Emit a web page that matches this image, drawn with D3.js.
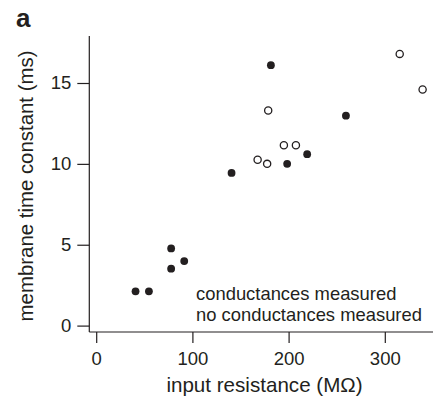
<!DOCTYPE html>
<html>
<head>
<meta charset="utf-8">
<script src="https://cdn.jsdelivr.net/npm/d3@7"></script>
<style>
  html, body { margin: 0; padding: 0; background: #fff; }
  svg { display: block; font-family: "Liberation Sans", Arial, sans-serif; }
</style>
</head>
<body>
<svg id="chart" width="433" height="399"></svg>
<script>
// Data: input resistance (MΩ) vs membrane time constant (ms)
const measuredX = [181.6, 259.6, 219.3, 198.5, 140.7, 77.9, 91.5, 77.9, 40.9, 54.8];
const measuredY = [16.1, 12.98, 10.6, 10.0, 9.44, 4.77, 3.99, 3.52, 2.12, 2.12];
const notMeasuredX = [315.5, 339.3, 178.8, 195.1, 207.6, 167.8, 177.7];
const notMeasuredY = [16.8, 14.6, 13.3, 11.15, 11.15, 10.25, 10.0];
const xTicks = [0, 100, 200, 300];
const yTicks = [0, 5, 10, 15];
const legendLabels = ["conductances measured", "no conductances measured"];

const ink = "#231f20";
const svg = d3.select("#chart");

const x = d3.scaleLinear().domain([0, 300]).range([96.2, 384.8]);
const y = d3.scaleLinear().domain([0, 15]).range([325.6, 83.0]);

// Axis lines
const axisLeftX = 89.3, axisBottomY = 332;
svg.append("line").attr("x1", axisLeftX).attr("x2", axisLeftX)
  .attr("y1", 36).attr("y2", axisBottomY)
  .attr("stroke", ink).attr("stroke-width", 1.2);
svg.append("line").attr("x1", axisLeftX).attr("x2", 433)
  .attr("y1", axisBottomY).attr("y2", axisBottomY)
  .attr("stroke", ink).attr("stroke-width", 1.2);

// Y axis ticks
const yAxis = d3.axisLeft(y).tickValues(yTicks).tickSize(12).tickPadding(6).tickFormat(d3.format("d"));
const gy = svg.append("g").attr("transform", `translate(${axisLeftX},0)`).call(yAxis);
gy.select(".domain").remove();
gy.selectAll(".tick line").attr("stroke", ink).attr("stroke-width", 1.2);
gy.selectAll(".tick text").attr("fill", ink).style("font-size", "18.5px")
  .style("font-family", "'Liberation Sans', Arial, sans-serif");

// X axis ticks
const xAxis = d3.axisBottom(x).tickValues(xTicks).tickSize(11).tickPadding(9).tickFormat(d3.format("d"));
const gx = svg.append("g").attr("transform", `translate(0,${axisBottomY})`).call(xAxis);
gx.select(".domain").remove();
gx.selectAll(".tick line").attr("stroke", ink).attr("stroke-width", 1.2);
gx.selectAll(".tick text").attr("fill", ink).style("font-size", "18.5px")
  .style("font-family", "'Liberation Sans', Arial, sans-serif");

// Points
const filled = measuredX.map((v, i) => ({x: v, y: measuredY[i]}));
const open = notMeasuredX.map((v, i) => ({x: v, y: notMeasuredY[i]}));

svg.append("g").selectAll("circle").data(filled).join("circle")
  .attr("cx", d => x(d.x)).attr("cy", d => y(d.y)).attr("r", 3.9)
  .attr("fill", ink);

svg.append("g").selectAll("circle").data(open).join("circle")
  .attr("cx", d => x(d.x)).attr("cy", d => y(d.y)).attr("r", 3.6)
  .attr("fill", "#fff").attr("stroke", ink).attr("stroke-width", 1.3);

// Legend text
svg.append("g").selectAll("text").data(legendLabels).join("text")
  .attr("x", 196).attr("y", (d, i) => 300 + i * 20.5)
  .attr("fill", ink).style("font-size", "18.4px")
  .text(d => d);

// Axis labels
svg.append("text")
  .attr("x", 264.5).attr("y", 392)
  .attr("text-anchor", "middle").attr("fill", ink).style("font-size", "20.6px")
  .text("input resistance (MΩ)");

svg.append("text")
  .attr("transform", "translate(33,186) rotate(-90)")
  .attr("text-anchor", "middle").attr("fill", ink).style("font-size", "20.4px")
  .text("membrane time constant (ms)");

// Panel label
svg.append("text")
  .attr("x", 16).attr("y", 27)
  .attr("fill", ink).style("font-size", "26px").style("font-weight", "bold")
  .text("a");
</script>
</body>
</html>
